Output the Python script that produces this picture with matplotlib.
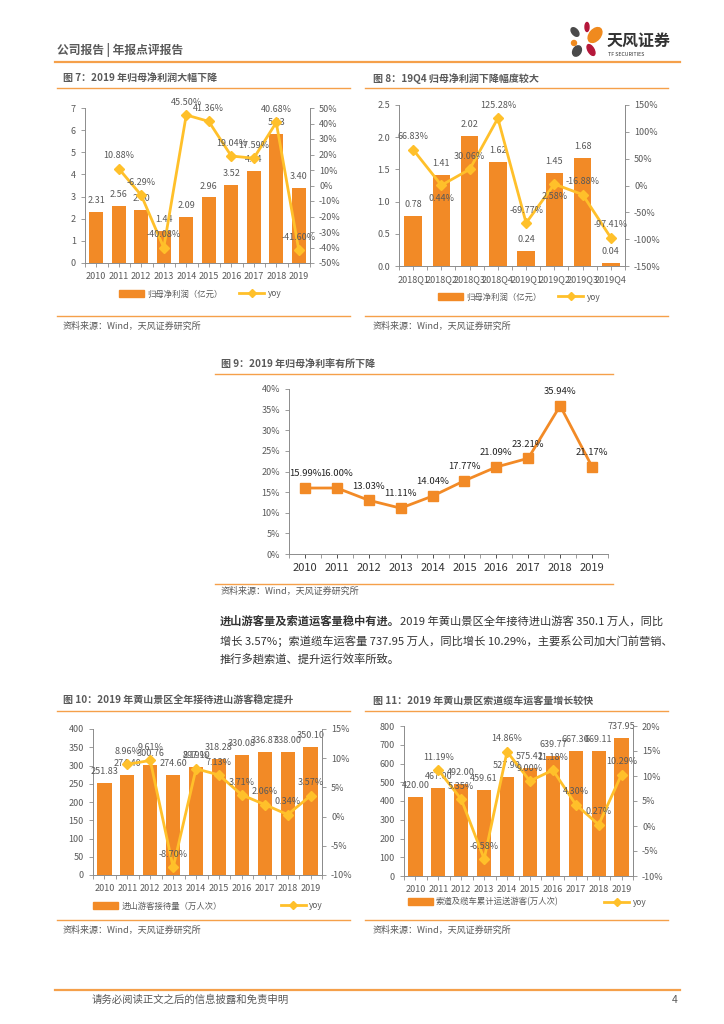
import matplotlib.pyplot as plt
from matplotlib.patches import Ellipse
from matplotlib.lines import Line2D
from matplotlib.patches import Patch
import numpy as np

plt.rcParams['font.family'] = ['Noto Sans CJK SC', 'DejaVu Sans']

W, H = 724, 1024
ORANGE = '#F28A26'
YELLOW = '#FFC02A'
GRAY = '#595959'
LINE = '#F5A04A'

# ---- data ----
years = ['2010', '2011', '2012', '2013', '2014', '2015', '2016', '2017', '2018', '2019']

profit = [2.31, 2.56, 2.40, 1.44, 2.09, 2.96, 3.52, 4.14, 5.83, 3.40]
profit_yoy = [None, 10.88, -6.29, -40.08, 45.50, 41.36, 19.04, 17.59, 40.68, -41.60]

quarters = ['2018Q1', '2018Q2', '2018Q3', '2018Q4', '2019Q1', '2019Q2', '2019Q3', '2019Q4']
q_profit = [0.78, 1.41, 2.02, 1.62, 0.24, 1.45, 1.68, 0.04]
q_yoy = [66.83, 0.44, 30.06, 125.28, -69.77, 2.58, -16.88, -97.41]

margin = [15.99, 16.00, 13.03, 11.11, 14.04, 17.77, 21.09, 23.21, 35.94, 21.17]

visitors = [251.83, 274.40, 300.76, 274.60, 297.10, 318.28, 330.08, 336.87, 338.00, 350.10]
visitors_yoy = [None, 8.96, 9.61, -8.70, 8.19, 7.13, 3.71, 2.06, 0.34, 3.57]

cable = [420.00, 467.00, 492.00, 459.61, 527.90, 575.42, 639.77, 667.30, 669.11, 737.95]
cable_yoy = [None, 11.19, 5.35, -6.58, 14.86, 9.00, 11.18, 4.30, 0.27, 10.29]


def rect(l, t, r, b):
    return [l / W, 1 - b / H, (r - l) / W, (b - t) / H]


def fx(x):
    return x / W


def fy(y):
    return 1 - y / H


fig = plt.figure(figsize=(W / 100, H / 100), dpi=100)


def hline(x0, x1, y, lw=1.0):
    fig.add_artist(Line2D([fx(x0), fx(x1)], [fy(y), fy(y)], color=LINE, lw=lw))


def style_axis(ax, fs=6.5):
    ax.spines['top'].set_visible(False)
    for s in ['left', 'right', 'bottom']:
        ax.spines[s].set_color('#8C8C8C')
        ax.spines[s].set_linewidth(0.7)
    ax.tick_params(colors=GRAY, labelsize=fs, length=3, width=0.6, color='#8C8C8C')


def bar_line_chart(box, cats, bars, yoy, ylim, yticks, ylabels, y2lim, y2ticks,
                   bar_label, legend_y, legend_x, colsp, below=(), xfs=6.5):
    ax = fig.add_axes(rect(*box))
    x = np.arange(len(cats))
    ax.bar(x, bars, width=0.62, color=ORANGE, zorder=2)
    ax.set_ylim(*ylim)
    ax.set_xlim(-0.5, len(cats) - 0.5)
    ax.set_yticks(yticks)
    ax.set_yticklabels(ylabels)
    ax.set_xticks(x)
    ax.set_xticklabels(cats, fontsize=xfs)
    ax.set_xticks(np.arange(-0.5, len(cats), 1), minor=True)
    ax.tick_params(axis='x', which='major', length=0)
    ax.tick_params(axis='x', which='minor', length=3, color='#8C8C8C')
    style_axis(ax)
    for xi, v in zip(x, bars):
        ax.annotate(f'{v:.2f}', (xi, v), xytext=(0, 5), textcoords='offset points',
                    ha='center', va='bottom', fontsize=6.5, color=GRAY, zorder=5)
    ax2 = ax.twinx()
    xs = [xi for xi, v in zip(x, yoy) if v is not None]
    ys = [v for v in yoy if v is not None]
    ax2.plot(xs, ys, color=YELLOW, lw=2, marker='D', ms=5, zorder=4)
    ax2.set_ylim(*y2lim)
    ax2.set_yticks(y2ticks)
    ax2.set_yticklabels([f'{t}%' for t in y2ticks])
    style_axis(ax2)
    ax2.spines['left'].set_visible(False)
    ax2.spines['bottom'].set_visible(False)
    for xi, v in zip(xs, ys):
        if xi in below:
            ax2.annotate(f'{v:.2f}%', (xi, v), xytext=(0, -6), textcoords='offset points',
                         ha='center', va='top', fontsize=6.5, color=GRAY, zorder=6)
        else:
            ax2.annotate(f'{v:.2f}%', (xi, v), xytext=(0, 6), textcoords='offset points',
                         ha='center', va='bottom', fontsize=6.5, color=GRAY, zorder=6)
    handles = [Patch(color=ORANGE), Line2D([], [], color=YELLOW, lw=2, marker='D', ms=4)]
    fig.legend(handles, [bar_label, 'yoy'], loc='center', ncol=2, frameon=False,
               bbox_to_anchor=(fx(legend_x), fy(legend_y)), fontsize=6, labelcolor=GRAY,
               handlelength=3.0, handleheight=0.8, handletextpad=0.4, columnspacing=colsp)
    return ax


# ---- header ----
fig.text(fx(57), fy(50), '公司报告 | 年报点评报告', fontsize=8.5, color=GRAY,
         fontweight='bold', va='center')
hline(55, 680, 62, lw=1.6)
logo = fig.add_axes(rect(565, 20, 605, 60))
logo.set_xlim(565, 605)
logo.set_ylim(60, 20)
logo.axis('off')
logo.add_patch(Ellipse((575, 32), 6, 10, angle=-40, color='#4A4A4A'))
logo.add_patch(Ellipse((587, 27), 4, 9, angle=0, color='#B5173A'))
logo.add_patch(Ellipse((595, 35), 11, 17, angle=40, color='#F08A1E'))
logo.add_patch(Ellipse((574, 43), 5, 5, color='#F08A1E'))
logo.add_patch(Ellipse((577, 51), 8, 11, angle=30, color='#4A4A4A'))
logo.add_patch(Ellipse((591, 50), 6, 12, angle=-30, color='#B5173A'))
fig.text(fx(607), fy(41), '天风证券', fontsize=11.5, fontweight='bold', color='#333333', va='center')
fig.text(fx(608), fy(54), 'TF SECURITIES', fontsize=3.8, color='#333333', va='center')

# ---- chart 7 ----
fig.text(fx(63), fy(79), '图 7：2019 年归母净利润大幅下降', fontsize=7.2, fontweight='bold',
         color=GRAY, va='center')
hline(57, 350, 88)
bar_line_chart((85, 108, 310, 263), years, profit, profit_yoy, (0, 7), range(0, 8),
               [str(t) for t in range(0, 8)], (-50, 50), list(range(-50, 51, 10)),
               '归母净利润（亿元）', 294, 200, 2.0)
hline(57, 350, 316)
fig.text(fx(63), fy(326), '资料来源：Wind，天风证券研究所', fontsize=6.5, color=GRAY, va='center')

# ---- chart 8 ----
fig.text(fx(373), fy(79), '图 8：19Q4 归母净利润下降幅度较大', fontsize=7.2, fontweight='bold',
         color=GRAY, va='center')
hline(365, 668, 88)
bar_line_chart((399, 105, 625, 266), quarters, q_profit, q_yoy, (0, 2.5),
               [0, 0.5, 1.0, 1.5, 2.0, 2.5], ['0.0', '0.5', '1.0', '1.5', '2.0', '2.5'],
               (-150, 150), list(range(-150, 151, 50)),
               '归母净利润（亿元）', 297, 519, 2.0, below=(1, 5), xfs=6.2)
hline(365, 668, 316)
fig.text(fx(373), fy(326), '资料来源：Wind，天风证券研究所', fontsize=6.5, color=GRAY, va='center')

# ---- chart 9 ----
fig.text(fx(221), fy(365), '图 9：2019 年归母净利率有所下降', fontsize=7.2, fontweight='bold',
         color=GRAY, va='center')
hline(215, 613, 374)
ax9 = fig.add_axes(rect(289, 389, 608, 554))
x9 = np.arange(len(years))
ax9.plot(x9, margin, color=ORANGE, lw=2, marker='s', ms=7, zorder=3)
ax9.set_xlim(-0.5, len(years) - 0.5)
ax9.set_ylim(0, 40)
ax9.set_yticks(range(0, 41, 5))
ax9.set_yticklabels([f'{t}%' for t in range(0, 41, 5)])
ax9.set_xticks(x9)
ax9.set_xticklabels(years, fontsize=8)
ax9.set_xticks(np.arange(-0.5, len(years), 1), minor=True)
ax9.tick_params(axis='x', which='major', length=0)
ax9.tick_params(axis='x', which='minor', length=3, color='#8C8C8C')
style_axis(ax9)
ax9.tick_params(axis='x', labelsize=8, colors='#333333')
ax9.spines['right'].set_visible(False)
for xi, v in zip(x9, margin):
    ax9.annotate(f'{v:.2f}%', (xi, v), xytext=(0, 7), textcoords='offset points',
                 ha='center', va='bottom', fontsize=6.8, color='#222222')
hline(215, 613, 584)
fig.text(fx(221), fy(591), '资料来源：Wind，天风证券研究所', fontsize=6.5, color=GRAY, va='center')

# ---- paragraph ----
bold = fig.text(fx(220), fy(621), '进山游客量及索道运客量稳中有进。', fontsize=8.1, fontweight='bold',
                color='#333333', va='center')
ax_txt = fig.add_axes([0, 0, 1, 1], zorder=-1)
ax_txt.axis('off')
ax_txt.annotate('2019 年黄山景区全年接待进山游客 350.1 万人，同比', xy=(1, 0.5), xycoords=bold,
                ha='left', va='center', fontsize=8.1, color='#333333')
fig.text(fx(220), fy(641), '增长 3.57%；索道缆车运客量 737.95 万人，同比增长 10.29%，主要系公司加大门前营销、',
         fontsize=8.1, color='#333333', va='center')
fig.text(fx(220), fy(660), '推行多趟索道、提升运行效率所致。', fontsize=8.1, color='#333333', va='center')

# ---- chart 10 ----
fig.text(fx(63), fy(701), '图 10：2019 年黄山景区全年接待进山游客稳定提升', fontsize=7.2,
         fontweight='bold', color=GRAY, va='center')
hline(57, 350, 711)
bar_line_chart((93, 729, 322, 875), years, visitors, visitors_yoy, (0, 400), range(0, 401, 50),
               [str(t) for t in range(0, 401, 50)], (-10, 15), list(range(-10, 16, 5)),
               '进山游客接待量（万人次）', 906, 208, 7.0)
hline(57, 350, 920)
fig.text(fx(63), fy(930), '资料来源：Wind，天风证券研究所', fontsize=6.5, color=GRAY, va='center')

# ---- chart 11 ----
fig.text(fx(373), fy(701), '图 11：2019 年黄山景区索道缆车运客量增长较快', fontsize=7.2,
         fontweight='bold', color=GRAY, va='center')
hline(365, 668, 711)
bar_line_chart((404, 726, 633, 876), years, cable, cable_yoy, (0, 800), range(0, 801, 100),
               [str(t) for t in range(0, 801, 100)], (-10, 20), list(range(-10, 21, 5)),
               '索道及缆车累计运送游客(万人次)', 902, 527, 5.5)
hline(365, 668, 920)
fig.text(fx(373), fy(930), '资料来源：Wind，天风证券研究所', fontsize=6.5, color=GRAY, va='center')

# ---- footer ----
hline(55, 680, 990, lw=1.6)
fig.text(fx(92), fy(1000), '请务必阅读正文之后的信息披露和免责申明', fontsize=7.5, color=GRAY, va='center')
fig.text(fx(672), fy(1000), '4', fontsize=7.5, color=GRAY, va='center')

fig.savefig('out.png', dpi=100)
